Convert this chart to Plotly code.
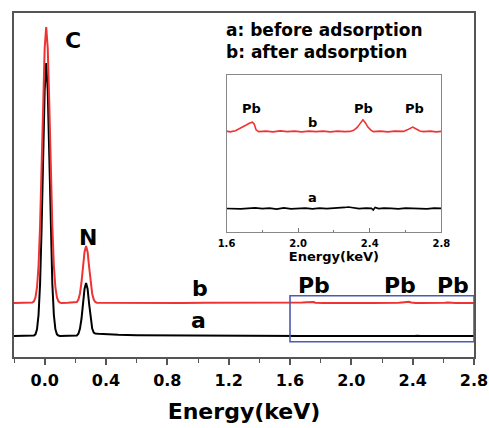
import plotly.graph_objects as go

# ---------------- data ----------------
# spectrum a: before adsorption (counts, arbitrary units)
energy_a = [-0.20, -0.14, -0.10, -0.08,
            -0.07, -0.06, -0.05, -0.04, -0.03, -0.02, -0.01, 0.00, 0.01,
            0.02, 0.03, 0.04, 0.05, 0.06, 0.07, 0.08, 0.09, 0.10,
            0.14, 0.18, 0.20,
            0.21, 0.22, 0.23, 0.24, 0.25, 0.26, 0.27, 0.28, 0.29, 0.30,
            0.31, 0.32, 0.33, 0.35, 0.40, 0.48, 0.60, 0.75, 0.90, 1.05,
            1.20, 1.35, 1.50,
            1.56, 1.60, 1.64, 1.68, 1.72, 1.76, 1.80, 1.84, 1.88, 1.92,
            1.96, 2.00, 2.04, 2.08, 2.12, 2.16, 2.20, 2.24, 2.26, 2.28,
            2.30, 2.34, 2.38, 2.41, 2.42, 2.43, 2.45, 2.48, 2.52, 2.56,
            2.60, 2.64, 2.68, 2.72, 2.76, 2.78, 2.80]
counts_a = [0.0, 0.1, 0.0, 0.1,
            0.4, 1.7, 6.6, 21, 52, 108, 181, 246, 273,
            246, 181, 108, 52, 21, 6.6, 1.7, 0.4, 0.1,
            0.2, 0.0, 0.2,
            0.6, 2.3, 7.2, 17, 32, 47, 53, 47, 32, 17,
            7.5, 3.5, 2.5, 2.2, 1.6, 1.2, 0.8, 0.6, 0.5, 0.4,
            0.3, 0.2, 0.12,
            0.09, 0.03, 0.09, 0.0, 0.06, 0.12, 0.03, 0.09, -0.03, 0.12,
            0.0, 0.06, 0.09, 0.0, 0.09, 0.03, 0.06, 0.09, 0.18, 0.24,
            0.15, 0.03, 0.09, 0.06, -0.15, 0.18, 0.03, 0.09, 0.06, 0.0,
            0.09, 0.03, 0.06, 0.0, 0.09, 0.12, 0.06]

# spectrum b: after adsorption (counts, arbitrary units)
energy_b = [-0.20, -0.14, -0.09,
            -0.08, -0.07, -0.06, -0.05, -0.04, -0.03, -0.02, -0.01, 0.00,
            0.01, 0.02, 0.03, 0.04, 0.05, 0.06, 0.07, 0.08, 0.09, 0.10,
            0.11, 0.15, 0.20,
            0.21, 0.22, 0.23, 0.24, 0.25, 0.26, 0.27, 0.28, 0.29, 0.30,
            0.31, 0.32, 0.33, 0.34,
            0.40, 0.50, 0.60, 0.75, 0.90, 1.05, 1.20, 1.35, 1.50,
            1.56, 1.60, 1.62, 1.65, 1.68, 1.71, 1.73, 1.745, 1.755, 1.765,
            1.78, 1.82, 1.86, 1.90, 1.94, 1.98, 2.02, 2.06, 2.10, 2.14,
            2.18, 2.22, 2.26, 2.29, 2.31, 2.33, 2.35, 2.362, 2.375, 2.39,
            2.405, 2.42, 2.46, 2.50, 2.54, 2.57, 2.59, 2.61, 2.63, 2.64,
            2.66, 2.68, 2.70, 2.74, 2.77, 2.80]
counts_b = [0.1, 0.2, 0.1,
            0.4, 1.7, 5.5, 15.5, 37, 77, 134, 200, 255,
            276, 255, 200, 134, 77, 37, 15.5, 5.5, 1.7, 0.4,
            0.0, 0.2, 0.3,
            1.0, 3.4, 9.3, 20.5, 36, 51, 57, 51, 36, 20.5,
            9.3, 3.4, 1.0, 0.3,
            0.2, 0.3, 0.1, 0.3, 0.1, 0.2, 0.1, 0.06, 0.09,
            0.03, 0.09, 0.0, 0.15, 0.45, 0.85, 1.1, 1.2, 0.95, 0.25,
            0.03, 0.09, 0.0, 0.12, 0.03, 0.09, 0.0, 0.09, 0.03, 0.09,
            0.0, 0.09, 0.03, 0.06, 0.2, 0.55, 1.15, 1.5, 1.15, 0.6,
            0.25, 0.03, 0.09, 0.0, 0.09, 0.03, 0.06, 0.25, 0.55, 0.6,
            0.35, 0.12, 0.03, 0.09, 0.0, 0.06]

offset_b = 33         # vertical stacking offset of spectrum b, main plot
offset_b_inset = 9.6  # vertical stacking offset of spectrum b, inset

main_ticks = [0.0, 0.4, 0.8, 1.2, 1.6, 2.0, 2.4, 2.8]
main_tick_labels = ["0.0", "0.4", "0.8", "1.2", "1.6", "2.0", "2.4", "2.8"]
inset_ticks = [1.6, 2.0, 2.4, 2.8]
inset_tick_labels = ["1.6", "2.0", "2.4", "2.8"]
zoom_box_energy = [1.6, 2.8]

peak_labels_main = ["C", "N", "Pb", "Pb", "Pb"]
peak_label_energy = [0.185, 0.283, 1.755, 2.32, 2.664]
peak_label_height = [296, 99, 51, 51, 51]
pb_inset_energy = [1.742, 2.367, 2.652]

# ---------------- figure ----------------
RED = "#ee3333"
BLACK = "#000000"
FONT = "DejaVu Sans"
counts_b_main = [c + offset_b for c in counts_b]
counts_b_inset = [c + offset_b_inset for c in counts_b]

fig = go.Figure()
# main plot
fig.add_trace(go.Scatter(x=energy_a, y=counts_a, mode="lines",
                         line=dict(color=BLACK, width=2), xaxis="x", yaxis="y"))
fig.add_trace(go.Scatter(x=energy_b, y=counts_b_main, mode="lines",
                         line=dict(color=RED, width=2), xaxis="x", yaxis="y"))
# inset
fig.add_trace(go.Scatter(x=energy_a, y=counts_a, mode="lines",
                         line=dict(color=BLACK, width=1.6), xaxis="x2", yaxis="y2"))
fig.add_trace(go.Scatter(x=energy_b, y=counts_b_inset, mode="lines",
                         line=dict(color=RED, width=1.6), xaxis="x2", yaxis="y2"))

# zoom box on main plot
fig.add_shape(type="rect", xref="x", yref="y",
              x0=zoom_box_energy[0], x1=zoom_box_energy[1], y0=-5.7, y1=40.3,
              line=dict(color="#4a5cb0", width=1.6), fillcolor="rgba(0,0,0,0)")

ann = []
big = dict(family=FONT, size=22, color="black", weight="bold")
for t, e, h in zip(peak_labels_main, peak_label_energy, peak_label_height):
    ann.append(dict(x=e, y=h, xref="x", yref="y", text=t, showarrow=False,
                    font=big, xanchor="center", yanchor="middle"))
ann.append(dict(x=1.01, y=48, xref="x", yref="y", text="b", showarrow=False,
                font=big, xanchor="center", yanchor="middle"))
ann.append(dict(x=1.0, y=16, xref="x", yref="y", text="a", showarrow=False,
                font=big, xanchor="center", yanchor="middle"))

small = dict(family=FONT, size=13, color="black", weight="bold")
for e in pb_inset_energy:
    ann.append(dict(x=e, y=12.5, xref="x2", yref="y2", text="Pb", showarrow=False,
                    font=small, xanchor="center", yanchor="middle"))
ann.append(dict(x=2.078, y=10.8, xref="x2", yref="y2", text="b", showarrow=False,
                font=small, xanchor="center", yanchor="middle"))
ann.append(dict(x=2.083, y=1.45, xref="x2", yref="y2", text="a", showarrow=False,
                font=small, xanchor="center", yanchor="middle"))

leg = dict(family=FONT, size=17, color="black", weight="bold")
ann.append(dict(x=0.4565, y=0.951, xref="paper", yref="paper",
                text="a: before adsorption", showarrow=False, font=leg,
                xanchor="left", yanchor="middle"))
ann.append(dict(x=0.4565, y=0.887, xref="paper", yref="paper",
                text="b: after adsorption", showarrow=False, font=leg,
                xanchor="left", yanchor="middle"))

AX = "#555555"
fig.update_layout(
    width=489, height=428,
    margin=dict(l=14, r=15, t=13, b=71, autoexpand=False),
    paper_bgcolor="white", plot_bgcolor="white",
    showlegend=False,
    annotations=ann,
    xaxis=dict(domain=[0, 1], range=[-0.2, 2.8], anchor="y", automargin=False,
               tickvals=main_ticks, ticktext=main_tick_labels,
               ticks="outside", ticklen=6, tickwidth=1.5, tickcolor=AX,
               minor=dict(tickvals=[-0.2, 0.2, 0.6, 1.0, 1.4, 1.8, 2.2, 2.6],
                          ticks="outside", ticklen=4, tickwidth=1.2, tickcolor=AX),
               showline=True, linecolor=AX, linewidth=1.5, mirror=True,
               showgrid=False, zeroline=False,
               tickfont=dict(family=FONT, size=16, color="black", weight="bold"),
               ticklabelstandoff=2,
               title=dict(text="Energy(keV)", standoff=15,
                          font=dict(family=FONT, size=22, color="black", weight="bold"))),
    yaxis=dict(domain=[0, 1], range=[-21, 323], anchor="x", automargin=False,
               showticklabels=False, ticks="",
               showline=True, linecolor=AX, linewidth=1.5, mirror=True,
               showgrid=False, zeroline=False),
    xaxis2=dict(domain=[0.462, 0.929], range=[1.6, 2.8], anchor="y2", automargin=False,
                tickvals=inset_ticks, ticktext=inset_tick_labels,
                ticks="inside", ticklen=4, tickwidth=1, tickcolor="#777777",
                minor=dict(tickvals=[1.8, 2.2, 2.6], ticks="inside", ticklen=2,
                           tickwidth=1, tickcolor="#777777"),
                showline=True, linecolor="#888888", linewidth=1, mirror=True,
                showgrid=False, zeroline=False,
                tickfont=dict(family=FONT, size=10, color="black", weight="bold"),
                ticklabelstandoff=2,
                title=dict(text="Energy(keV)", standoff=2,
                           font=dict(family=FONT, size=13, color="black", weight="bold"))),
    yaxis2=dict(domain=[0.363, 0.820], range=[-2.9, 16.7], anchor="x2", automargin=False,
                showticklabels=False, ticks="",
                showline=True, linecolor="#888888", linewidth=1, mirror=True,
                showgrid=False, zeroline=False),
)

fig.write_html("out.html", config={"displayModeBar": False},
               post_script="document.body.style.margin='0px';")
